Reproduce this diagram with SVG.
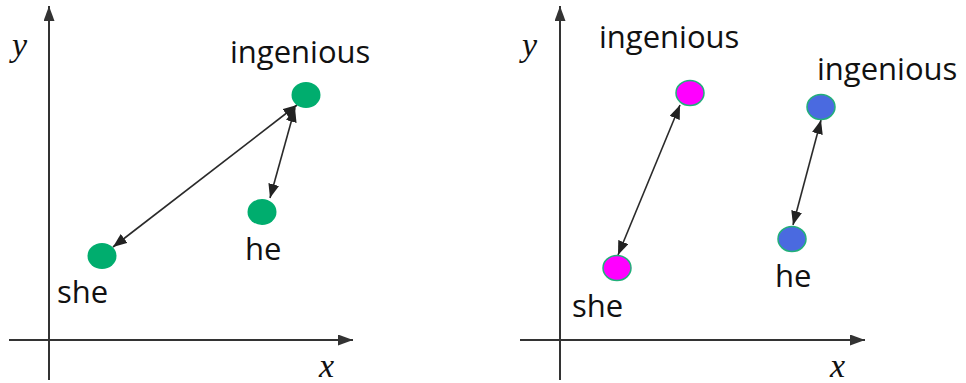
<svg xmlns="http://www.w3.org/2000/svg" width="966" height="383" viewBox="0 0 966 383">
<style>
.ax{stroke:#333;stroke-width:2;fill:none}
.cn{stroke:#2a2a2a;stroke-width:1.6;fill:none}
.lbl{font-family:"Open Sans","Noto Sans",sans-serif;font-size:31px;fill:#111}
.var{font-family:"Liberation Serif",serif;font-style:italic;font-size:34px;fill:#111}
.g{fill:#00ad6e}
.m{fill:#ff00ff;stroke:#22b07a;stroke-width:1.5}
.b{fill:#4a6ae0;stroke:#22b07a;stroke-width:1.5}
</style>
<defs>
<marker id="axh" markerUnits="userSpaceOnUse" markerWidth="16" markerHeight="11" refX="15" refY="5.5" orient="auto"><path d="M0,0 L15,5.5 L0,11 z" fill="#333"/></marker>
<marker id="ah" markerUnits="userSpaceOnUse" markerWidth="15" markerHeight="12" refX="14" refY="5.5" orient="auto-start-reverse"><path d="M0,0 L14,5.5 L0,11 z" fill="#222"/></marker>
</defs>
<g id="axes">
<line class="ax" x1="49" y1="380" x2="49" y2="6" marker-end="url(#axh)"/>
<line class="ax" x1="9" y1="340" x2="353" y2="340" marker-end="url(#axh)"/>
<line class="ax" x1="560" y1="380" x2="560" y2="6" marker-end="url(#axh)"/>
<line class="ax" x1="520" y1="340" x2="865" y2="340" marker-end="url(#axh)"/>
<text class="var" x="12" y="56">y</text>
<text class="var" x="319" y="377">x</text>
<text class="var" x="522" y="56">y</text>
<text class="var" x="830" y="377">x</text>
</g>
<g id="connectors">
<line class="cn" x1="113" y1="247" x2="297" y2="105" marker-start="url(#ah)" marker-end="url(#ah)"/>
<line class="cn" x1="295" y1="108" x2="270" y2="198" marker-start="url(#ah)" marker-end="url(#ah)"/>
<line class="cn" x1="680" y1="105" x2="618" y2="255" marker-start="url(#ah)" marker-end="url(#ah)"/>
<line class="cn" x1="821" y1="120" x2="793" y2="225" marker-start="url(#ah)" marker-end="url(#ah)"/>
</g>
<g id="left-ingenious"><ellipse class="g" cx="306" cy="95" rx="14.5" ry="13"/><text class="lbl" x="230" y="63">ingenious</text></g>
<g id="left-he"><ellipse class="g" cx="262" cy="212" rx="14.5" ry="13"/><text class="lbl" x="245" y="260">he</text></g>
<g id="left-she"><ellipse class="g" cx="102" cy="256" rx="14.5" ry="13"/><text class="lbl" x="57" y="303">she</text></g>
<g id="right-ingenious-she"><ellipse class="m" cx="690" cy="93" rx="14" ry="12.5"/><text class="lbl" x="599" y="48">ingenious</text></g>
<g id="right-she"><ellipse class="m" cx="617" cy="268" rx="14" ry="12.5"/><text class="lbl" x="572" y="317">she</text></g>
<g id="right-ingenious-he"><ellipse class="b" cx="821" cy="107" rx="14" ry="12.5"/><text class="lbl" x="817" y="80">ingenious</text></g>
<g id="right-he"><ellipse class="b" cx="792" cy="239" rx="14" ry="12.5"/><text class="lbl" x="775" y="287">he</text></g>
</svg>
